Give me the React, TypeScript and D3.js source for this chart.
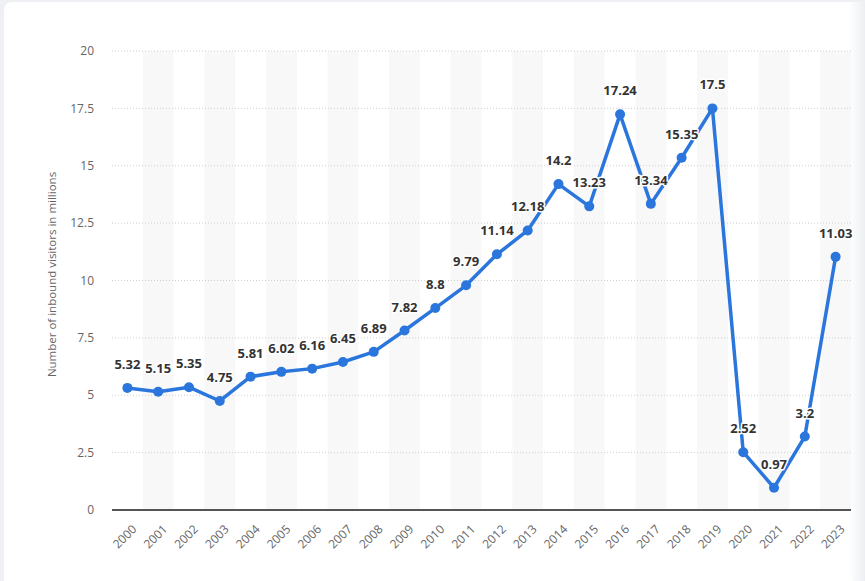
import React from 'react';
import * as d3 from 'd3';

const years = ['2000', '2001', '2002', '2003', '2004', '2005', '2006', '2007', '2008', '2009', '2010', '2011',
  '2012', '2013', '2014', '2015', '2016', '2017', '2018', '2019', '2020', '2021', '2022', '2023'];
const visitors = [5.32, 5.15, 5.35, 4.75, 5.81, 6.02, 6.16, 6.45, 6.89, 7.82, 8.8, 9.79,
  11.14, 12.18, 14.2, 13.23, 17.24, 13.34, 15.35, 17.5, 2.52, 0.97, 3.2, 11.03];
const yTicks = [0, 2.5, 5, 7.5, 10, 12.5, 15, 17.5, 20];
const yTitle = 'Number of inbound visitors in millions';

const W = 865;
const H = 581;
const margin = { left: 112, right: 14, top: 51, bottom: 71 };
const FONT = '"Open Sans", "Noto Sans", sans-serif';

export default function App() {
  const x = d3.scaleBand().domain(years).range([margin.left, W - margin.right]);
  const y = d3.scaleLinear().domain([0, 20]).range([H - margin.bottom, margin.top]);
  const line = d3.line<number>()
    .x((_, i) => x(years[i])! + x.bandwidth() / 2)
    .y(d => y(d));

  return (
    <svg width={W} height={H} style={{ position: 'absolute', left: 0, top: 0, background: '#eef0f3' }}>
      <defs>
        <linearGradient id="edge" x1="0" x2="1">
          <stop offset="0" stopColor="#ffffff" />
          <stop offset="1" stopColor="#eceef1" />
        </linearGradient>
      </defs>
      <rect x={4} y={2} width={W + 20} height={H + 20} rx={8} fill="#fff" />
      <rect x={850} y={2} width={15} height={H} fill="url(#edge)" />

      {/* alternating bands */}
      {years.map((yr, i) => i % 2 === 1 && (
        <rect key={yr} x={x(yr)} y={margin.top} width={x.bandwidth()} height={y(0) - margin.top} fill="#f8f8f8" />
      ))}

      {/* grid */}
      {yTicks.filter(t => t > 0).map(t => (
        <line key={t} x1={margin.left} x2={W - margin.right} y1={y(t)} y2={y(t)}
          stroke="#cfcfcf" strokeWidth={1} strokeDasharray="1,2" />
      ))}
      {yTicks.map(t => (
        <text key={t} x={94} y={y(t)} dy="0.35em" textAnchor="end" fontFamily={FONT} fontSize={12} fill="#666">
          {t}
        </text>
      ))}
      <line x1={margin.left} x2={W - margin.right} y1={y(0)} y2={y(0)} stroke="#555" strokeWidth={2} />

      <text transform={`translate(56,${(y(0) + y(20)) / 2 - 6}) rotate(-90)`} textAnchor="middle"
        fontFamily={FONT} fontSize={11.5} fill="#666">{yTitle}</text>

      {years.map(yr => (
        <text key={yr} transform={`translate(${x(yr)! + x.bandwidth() / 2 + 4},${y(0) + 14}) rotate(-45)`}
          textAnchor="end" dy="0.7em" fontFamily={FONT} fontSize={12} fill="#666">{yr}</text>
      ))}

      <path d={line(visitors)!} fill="none" stroke="#2a76dd" strokeWidth={3.5} strokeLinejoin="round" />
      {visitors.map((v, i) => (
        <circle key={i} cx={x(years[i])! + x.bandwidth() / 2} cy={y(v)} r={5} fill="#2a76dd" />
      ))}
      {visitors.map((v, i) => (
        <text key={'l' + i} x={x(years[i])! + x.bandwidth() / 2} y={y(v) - 19} textAnchor="middle"
          fontFamily={FONT} fontSize={13} fontWeight="bold" fill="#333"
          stroke="#fff" strokeWidth={3} paintOrder="stroke" strokeLinejoin="round">
          {v}
        </text>
      ))}
    </svg>
  );
}
